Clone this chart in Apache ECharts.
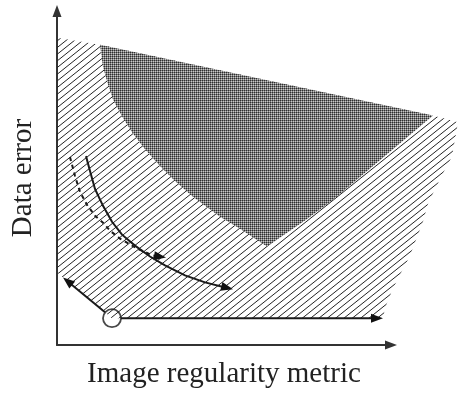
<!DOCTYPE html>
<html>
<head>
<meta charset="utf-8">
<script src="https://cdn.jsdelivr.net/npm/echarts@6/dist/echarts.min.js"></script>
<style>html,body{margin:0;padding:0;background:#fff}#main{width:458px;height:394px}</style>
</head>
<body>
<div id="main"></div>
<script>
// schematic coordinates (x = regularity, y = data error)
var hatchRegion = [[0,309],[43,302],[376,231],[401,224],[398,207],[395,190],[383,167],[371,142],[366,124],[353,90],[336,57],[328,37],[326,27],[55,27],[0,73]];
var darkRegion = [[43,302],[376,231],[276,146],[249,126],[210,99],[183,117],[163,129],[135,150],[118,165],[103,180],[88,197],[75,214],[65,230],[56,247],[51,262],[46,280]];
var solidCurve = [[29,190],[33,175],[38,157],[46,140],[55,124],[65,111],[78,100],[93,89],[108,80],[128,70],[148,63],[176,56]];
var dashedCurve = [[13,189],[18,170],[23,154],[30,141],[38,130],[46,123],[53,115],[63,107],[80,97],[96,90],[109,88]];
var innerArrow = [[64,27],[326,27]];
var diagArrow = [[48,33],[6,68]];
var originPoint = [[55,27]];
var xName = 'Image regularity metric';
var yName = 'Data error';

var myChart = echarts.init(document.getElementById('main'));

function hatchTile() {
    var c = document.createElement('canvas');
    c.width = 25; c.height = 20;
    var g = c.getContext('2d');
    g.strokeStyle = '#222';
    g.lineWidth = 1;
    for (var k = -1; k <= 7; k++) {
        var y0 = k * 20 / 3;
        g.beginPath();
        g.moveTo(0, y0);
        g.lineTo(25, y0 - 20);
        g.stroke();
    }
    return c;
}
function darkTile() {
    var c = document.createElement('canvas');
    c.width = 2; c.height = 2;
    var g = c.getContext('2d');
    g.fillStyle = '#2e2e2e'; g.fillRect(0, 0, 1, 1);
    g.fillStyle = '#7a7a7a'; g.fillRect(1, 0, 1, 1); g.fillRect(0, 1, 1, 1);
    g.fillStyle = '#c8c8c8'; g.fillRect(1, 1, 1, 1);
    return c;
}

function polygonSeries(points, fill) {
    return {
        type: 'custom', silent: true, clip: false,
        data: [[0, 0]],
        renderItem: function (params, api) {
            return {
                type: 'polygon',
                shape: { points: points.map(function (p) { return api.coord(p); }) },
                style: { fill: fill }
            };
        }
    };
}

function arrowSeries(points, dashed) {
    return {
        type: 'custom', silent: true, clip: false,
        data: [[0, 0]],
        renderItem: function (params, api) {
            var pts = points.map(function (p) { return api.coord(p); });
            var n = pts.length, tip = pts[n - 1], prev = pts[n - 2];
            var dx = tip[0] - prev[0], dy = tip[1] - prev[1];
            var len = Math.sqrt(dx * dx + dy * dy);
            var ux = dx / len, uy = dy / len, L = 12, W = 4.5;
            var bx = tip[0] - ux * L, by = tip[1] - uy * L;
            var line = pts.slice(0, n - 1).concat([[bx + ux * 3, by + uy * 3]]);
            return {
                type: 'group',
                children: [{
                    type: 'polyline',
                    shape: { points: line },
                    style: { stroke: '#1a1a1a', lineWidth: 2, fill: null, lineDash: dashed ? [4, 4] : null }
                }, {
                    type: 'polygon',
                    shape: { points: [tip, [bx - uy * W, by + ux * W], [bx + uy * W, by - ux * W]] },
                    style: { fill: '#111' }
                }]
            };
        }
    };
}

var nameStyle = { fontFamily: 'Liberation Serif', fontSize: 29, color: '#222' };

var option = {
    animation: false,
    grid: { left: 57, right: 67, top: 11, bottom: 47 },
    xAxis: {
        type: 'value', min: 0, max: 334,
        axisLine: { show: true, symbol: ['none', 'triangle'], symbolSize: [9, 12], lineStyle: { color: '#333', width: 2 } },
        axisTick: { show: false }, axisLabel: { show: false }, splitLine: { show: false },
        name: xName, nameLocation: 'middle', nameGap: 15, nameTextStyle: nameStyle
    },
    yAxis: {
        type: 'value', min: 0, max: 336,
        axisLine: { show: true, symbol: ['none', 'triangle'], symbolSize: [9, 12], lineStyle: { color: '#333', width: 2 } },
        axisTick: { show: false }, axisLabel: { show: false }, splitLine: { show: false },
        name: yName, nameLocation: 'middle', nameGap: 19, nameTextStyle: nameStyle
    },
    series: [
        polygonSeries(hatchRegion, { image: hatchTile(), repeat: 'repeat' }),
        polygonSeries(darkRegion, { image: darkTile(), repeat: 'repeat' }),
        arrowSeries(dashedCurve, true),
        arrowSeries(solidCurve, false),
        arrowSeries(innerArrow, false),
        arrowSeries(diagArrow, false),
        {
            type: 'scatter', silent: true,
            data: originPoint,
            symbol: 'circle', symbolSize: 18,
            itemStyle: { color: 'rgba(0,0,0,0)', borderColor: '#1a1a1a', borderWidth: 1.8 }
        }
    ]
};
myChart.setOption(option);
</script>
</body>
</html>
